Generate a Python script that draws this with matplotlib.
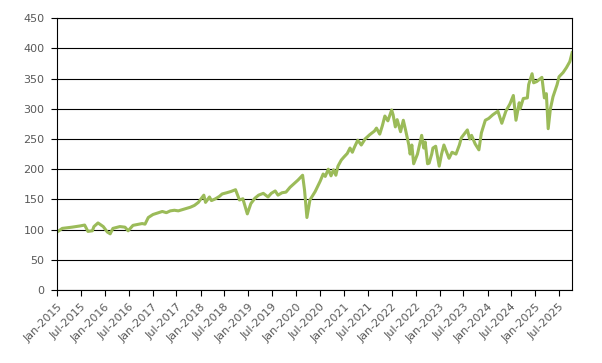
import matplotlib
matplotlib.use("Agg")
import matplotlib.pyplot as plt
import matplotlib.dates as mdates
import pandas as pd

# index level (irregular dates, roughly monthly plus turning points)
dates = [
    "2015-01-02", "2015-02-10", "2015-04-25", "2015-06-25", "2015-07-31", "2015-08-25",
    "2015-09-28", "2015-10-10", "2015-11-10", "2015-12-20", "2016-01-20", "2016-02-11",
    "2016-03-03", "2016-04-25", "2016-06-03", "2016-06-27", "2016-08-03", "2016-10-12",
    "2016-11-03", "2016-11-28", "2017-01-03", "2017-02-15", "2017-03-15", "2017-04-15",
    "2017-05-15", "2017-06-15", "2017-07-15", "2017-08-15", "2017-09-15", "2017-10-15",
    "2017-11-15", "2017-12-15", "2018-01-26", "2018-02-08", "2018-03-10", "2018-03-25",
    "2018-04-25", "2018-05-25", "2018-06-15", "2018-07-20", "2018-08-20", "2018-09-25",
    "2018-10-25", "2018-11-20", "2018-12-24", "2019-01-20", "2019-02-20", "2019-03-20",
    "2019-04-25", "2019-05-31", "2019-06-25", "2019-07-25", "2019-08-15", "2019-09-15",
    "2019-10-15", "2019-11-15", "2019-12-15", "2020-01-15", "2020-02-19", "2020-03-05",
    "2020-03-23", "2020-04-15", "2020-05-25", "2020-07-02", "2020-07-25", "2020-08-10",
    "2020-09-02", "2020-09-23", "2020-10-12", "2020-10-30", "2020-11-15", "2020-12-10",
    "2020-12-30", "2021-01-25", "2021-02-15", "2021-03-05", "2021-03-20", "2021-04-15",
    "2021-05-12", "2021-06-10", "2021-07-15", "2021-08-20", "2021-09-05", "2021-09-30",
    "2021-10-20", "2021-11-08", "2021-12-01", "2021-12-30", "2022-01-10", "2022-01-27",
    "2022-02-10", "2022-03-08", "2022-03-29", "2022-04-15", "2022-05-10", "2022-05-20",
    "2022-06-02", "2022-06-16", "2022-07-15", "2022-08-16", "2022-09-01", "2022-09-12",
    "2022-09-30", "2022-10-12", "2022-11-01", "2022-11-10", "2022-12-01", "2022-12-28",
    "2023-01-15", "2023-02-02", "2023-03-13", "2023-04-05", "2023-05-05", "2023-05-31",
    "2023-06-15", "2023-07-31", "2023-08-18", "2023-09-01", "2023-09-28", "2023-10-27",
    "2023-11-15", "2023-12-15", "2024-01-10", "2024-02-10", "2024-03-20", "2024-04-19",
    "2024-05-20", "2024-06-20", "2024-07-16", "2024-08-05", "2024-08-30", "2024-09-06",
    "2024-09-30", "2024-10-31", "2024-11-10", "2024-12-06", "2024-12-18", "2025-01-10",
    "2025-02-19", "2025-03-10", "2025-03-25", "2025-04-08", "2025-04-25", "2025-05-15",
    "2025-06-15", "2025-06-30", "2025-07-31", "2025-08-25", "2025-09-20", "2025-10-08",
]
values = [
    96, 102, 104, 106, 107.5, 97,
    98, 105, 111, 105, 96, 93,
    102, 105, 104, 98, 107, 110,
    109, 120, 125, 128, 130, 128,
    131, 132, 131, 133, 135, 137,
    140, 145, 157, 145, 154, 148,
    151, 155, 159, 161, 163, 166,
    149, 151, 126, 143, 152, 157,
    160, 154, 160, 164, 157, 161,
    162, 170, 176, 182, 190, 165,
    120, 149, 163, 180, 192, 188,
    200, 189, 199, 190, 205, 215,
    220, 226, 235, 228, 236, 248,
    240, 250, 257, 263, 268, 258,
    272, 288, 280, 298, 290, 270,
    282, 262, 281, 265, 240, 225,
    240, 209, 225, 256, 235, 245,
    209, 210, 225, 235, 238, 205,
    225, 240, 218, 228, 225, 240,
    252, 265, 250, 256, 242, 232,
    260, 281, 284, 290, 296, 276,
    296, 308, 322, 281, 310, 300,
    317, 318, 340, 358, 343, 345,
    352, 318, 325, 267, 300, 320,
    340, 353, 360, 368, 378, 393,
]

y_ticks = list(range(0, 451, 50))

series = pd.Series(values, index=pd.to_datetime(dates))

fig = plt.figure(figsize=(6.02, 3.63), dpi=100)
ax = fig.add_axes([0.0947, 0.2011, 0.8555, 0.7489])

ax.plot(series.index, series.values, color="#9bbb59", linewidth=2.2, solid_joinstyle="round")

ax.set_ylim(0, 450)
ax.set_yticks(y_ticks)
ax.set_xlim(pd.Timestamp("2015-01-01"), pd.Timestamp("2025-10-07"))
ax.xaxis.set_major_locator(mdates.MonthLocator(bymonth=[1, 7]))
ax.xaxis.set_major_formatter(mdates.DateFormatter("%b-%Y"))

ax.grid(axis="y", color="black", linewidth=0.8)
ax.set_axisbelow(True)
for s in ax.spines.values():
    s.set_color("black")
    s.set_linewidth(0.8)

ax.tick_params(axis="both", direction="out", length=4, width=0.8, color="black",
               labelsize=8, labelcolor="#595959")
ax.tick_params(axis="y", pad=5)
ax.tick_params(axis="x", pad=4.5)
for lbl in ax.get_xticklabels():
    lbl.set_rotation(45)
    lbl.set_ha("right")
    lbl.set_rotation_mode("anchor")

fig.savefig("out.png", dpi=100)
